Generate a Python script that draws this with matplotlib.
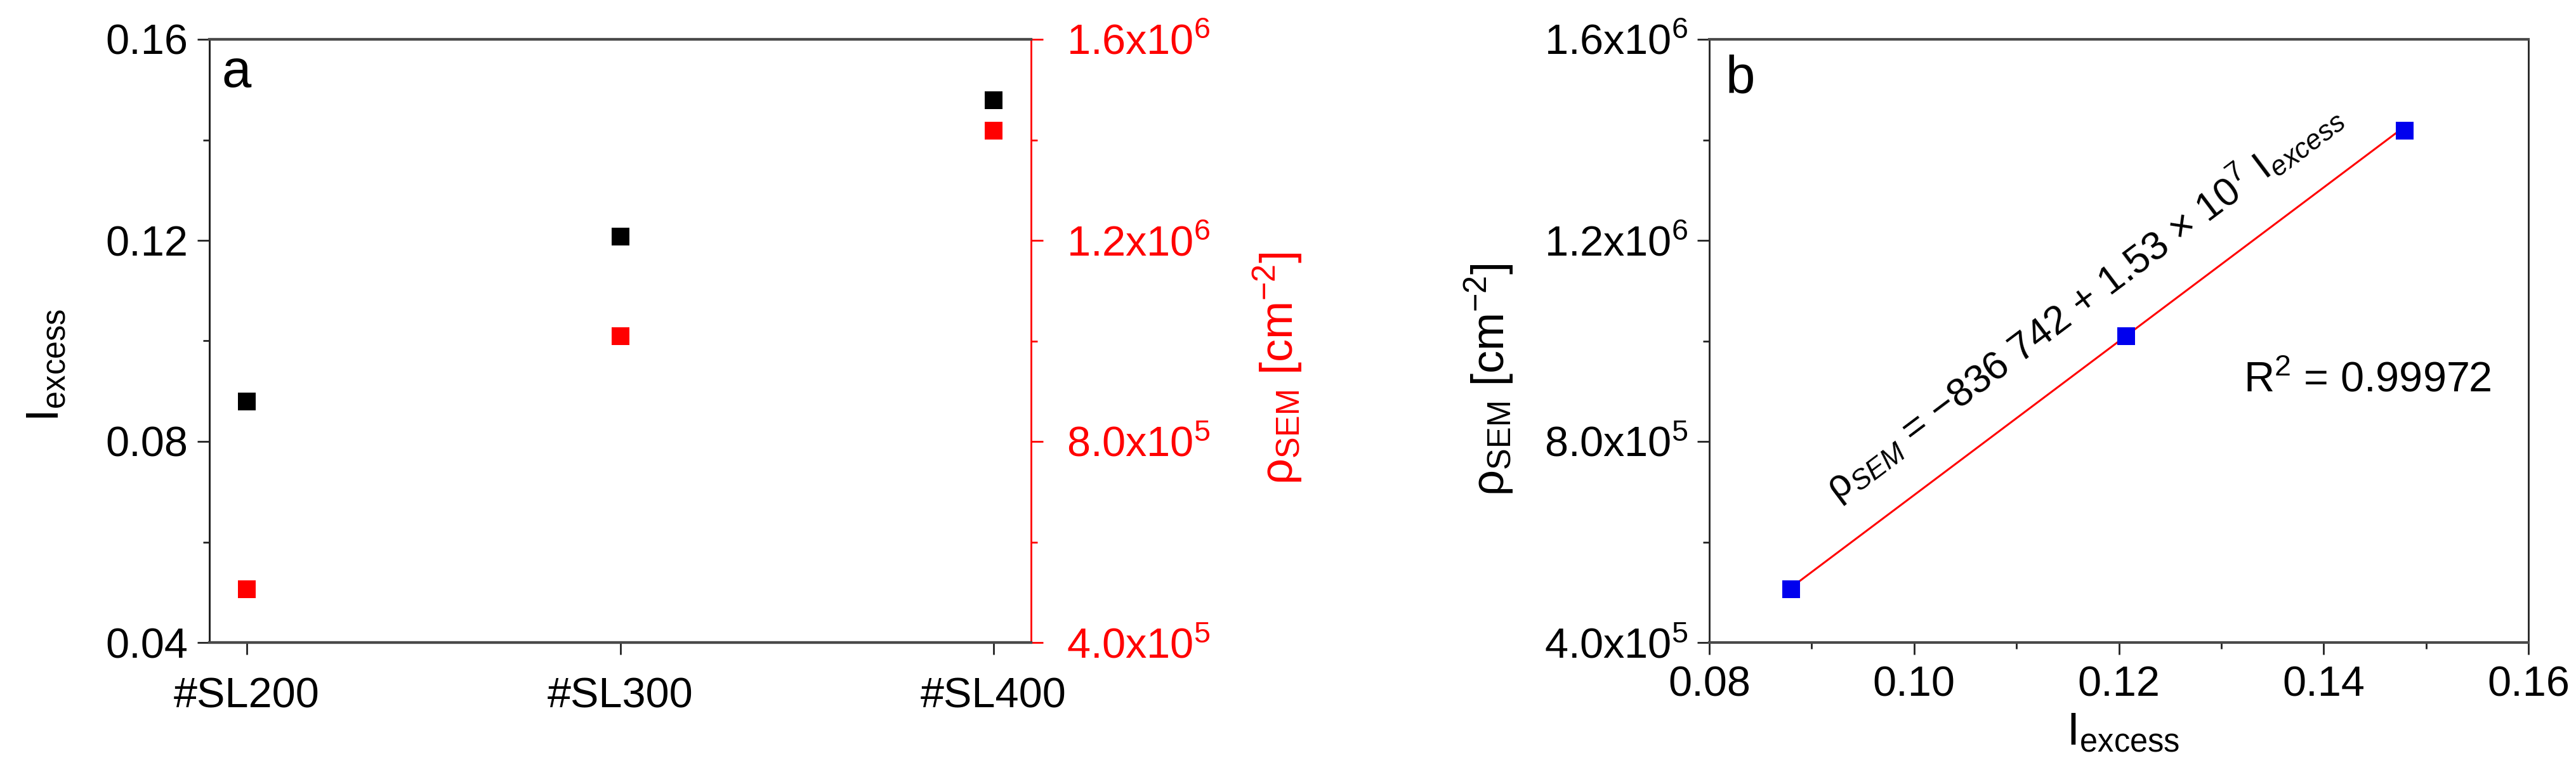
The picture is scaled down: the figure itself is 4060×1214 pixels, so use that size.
import math
import matplotlib
matplotlib.use("Agg")
import matplotlib.pyplot as plt
from matplotlib.ticker import MultipleLocator, FixedLocator, FixedFormatter

plt.rcParams['font.family'] = ['Liberation Sans', 'DejaVu Sans']
plt.rcParams['mathtext.fontset'] = 'custom'
plt.rcParams['mathtext.rm'] = 'Liberation Sans'
plt.rcParams['mathtext.it'] = 'Liberation Sans:italic'
plt.rcParams['mathtext.bf'] = 'Liberation Sans:bold'
plt.rcParams['mathtext.default'] = 'regular'

# ---------------- data ----------------
samples = ['#SL200', '#SL300', '#SL400']
i_excess = [0.0880, 0.1207, 0.1479]
rho_sem = [5.06e5, 1.010e6, 1.418e6]
fit_intercept = -836742
fit_slope = 1.53e7
r_squared = '0.99972'

left_ticks = [0.04, 0.08, 0.12, 0.16]
left_tick_labels = ['0.04', '0.08', '0.12', '0.16']
rho_ticks = [4.0e5, 8.0e5, 1.2e6, 1.6e6]
rho_tick_labels = ['4.0x10$^{5}$', '8.0x10$^{5}$', '1.2x10$^{6}$', '1.6x10$^{6}$']
bx_ticks = [0.08, 0.10, 0.12, 0.14, 0.16]
bx_tick_labels = ['0.08', '0.10', '0.12', '0.14', '0.16']

RED = '#ff0000'
BLUE = '#0000ee'
TICK_FS = 48
LABEL_FS = 52
LETTER_FS = 60
MS = 20
SPINE_DARK = '#222222'
SPINE_GRAY = '#4a4a4a'

fig = plt.figure(figsize=(40.6, 12.14), dpi=100)
W, H = 4060, 1214

def rect(x0, x1, ytop, ybot):
    return [x0 / W, 1 - ybot / H, (x1 - x0) / W, (ybot - ytop) / H]

# ---------------- panel a ----------------
axa = fig.add_axes(rect(330, 1625, 62, 1013))
xpos = list(range(len(samples)))
axa.plot(xpos, i_excess, ls='none', marker='s', ms=MS, color='black', mew=0)
axa.set_xlim(-0.1, 2.1)
axa.set_ylim(0.04, 0.16)
axa.set_xticks(xpos)
axa.set_xticklabels(samples)
axa.yaxis.set_major_locator(FixedLocator(left_ticks))
axa.yaxis.set_major_formatter(FixedFormatter(left_tick_labels))
axa.yaxis.set_minor_locator(MultipleLocator(0.02))
axa.tick_params(axis='both', which='major', direction='out', length=14, width=2,
                labelsize=TICK_FS, color=SPINE_DARK)
axa.tick_params(axis='y', which='minor', direction='out', length=7, width=2, color=SPINE_DARK)
axa.tick_params(axis='x', which='major', pad=25)
axa.tick_params(axis='y', which='major', pad=10)
axa.set_ylabel('I$_{excess}$', fontsize=LABEL_FS, va='center')
axa.yaxis.set_label_coords(-0.198, 0.46)
axa.text(0.015, 0.985, 'a', transform=axa.transAxes, fontsize=LETTER_FS, ha='left', va='top')

axr = axa.twinx()
axr.plot(xpos, rho_sem, ls='none', marker='s', ms=MS, color=RED, mew=0)
axr.set_ylim(4.0e5, 1.6e6)
axr.yaxis.set_major_locator(FixedLocator(rho_ticks))
axr.yaxis.set_major_formatter(FixedFormatter(rho_tick_labels))
axr.yaxis.set_minor_locator(MultipleLocator(2.0e5))
axr.tick_params(axis='y', which='major', direction='out', length=14, width=2,
                labelsize=TICK_FS, colors=RED, pad=26)
axr.tick_params(axis='y', which='minor', direction='out', length=7, width=2, color=RED)
axr.set_ylabel('ρ$_{SEM}$ [cm$^{−2}$]', fontsize=LABEL_FS, color=RED, va='center', rotation=90)
axr.yaxis.set_label_coords(1.30, 0.455)

for ax in (axa, axr):
    ax.spines['top'].set_color(SPINE_GRAY)
    ax.spines['top'].set_linewidth(3)
    ax.spines['bottom'].set_color(SPINE_GRAY)
    ax.spines['bottom'].set_linewidth(3)
    ax.spines['left'].set_color(SPINE_DARK)
    ax.spines['left'].set_linewidth(2)
axr.spines['right'].set_color(RED)
axr.spines['right'].set_linewidth(2)
axa.spines['right'].set_visible(False)

# ---------------- panel b ----------------
axb = fig.add_axes(rect(2694, 3985, 62, 1013))
fit_x = [i_excess[0], i_excess[-1]]
fit_y = [fit_intercept + fit_slope * v for v in fit_x]
axb.plot(fit_x, fit_y, color=RED, lw=2.2, zorder=2)
axb.plot(i_excess, rho_sem, ls='none', marker='s', ms=MS, color=BLUE, mew=0, zorder=3)
axb.set_xlim(0.08, 0.16)
axb.set_ylim(4.0e5, 1.6e6)
axb.xaxis.set_major_locator(FixedLocator(bx_ticks))
axb.xaxis.set_major_formatter(FixedFormatter(bx_tick_labels))
axb.xaxis.set_minor_locator(MultipleLocator(0.01))
axb.yaxis.set_major_locator(FixedLocator(rho_ticks))
axb.yaxis.set_major_formatter(FixedFormatter(rho_tick_labels))
axb.yaxis.set_minor_locator(MultipleLocator(2.0e5))
axb.tick_params(axis='both', which='major', direction='out', length=14, width=2,
                labelsize=TICK_FS, color=SPINE_DARK)
axb.tick_params(axis='both', which='minor', direction='out', length=7, width=2, color=SPINE_DARK)
axb.tick_params(axis='x', which='major', pad=12)
axb.tick_params(axis='y', which='major', pad=10)
axb.set_xlabel('I$_{excess}$', fontsize=LABEL_FS, va='center')
axb.xaxis.set_label_coords(0.505, -0.15)
axb.set_ylabel('ρ$_{SEM}$ [cm$^{−2}$]', fontsize=LABEL_FS, va='center')
axb.yaxis.set_label_coords(-0.269, 0.436)
axb.text(0.02, 0.975, 'b', transform=axb.transAxes, fontsize=LETTER_FS, ha='left', va='top')
for side in ('top', 'bottom'):
    axb.spines[side].set_color(SPINE_GRAY)
    axb.spines[side].set_linewidth(3)
for side in ('left', 'right'):
    axb.spines[side].set_color(SPINE_DARK)
    axb.spines[side].set_linewidth(2)

# rotation of equation text follows the fitted line on screen
p0 = axb.transData.transform((fit_x[0], fit_y[0]))
p1 = axb.transData.transform((fit_x[1], fit_y[1]))
angle = math.degrees(math.atan2(p1[1] - p0[1], p1[0] - p0[0]))
axb.text(0.1165, 1.08e6,
         'ρ$_{\\mathit{SEM}}$ = −836 742 + 1.53 × 10$^{7}$ I$_{\\mathit{excess}}$',
         fontsize=45, rotation=angle, rotation_mode='anchor', ha='center', va='center')
axb.text(0.1322, 9.21e5, 'R$^{2}$ = ' + r_squared, fontsize=TICK_FS, ha='left', va='center')

fig.savefig('out.png', dpi=100, facecolor='white')
